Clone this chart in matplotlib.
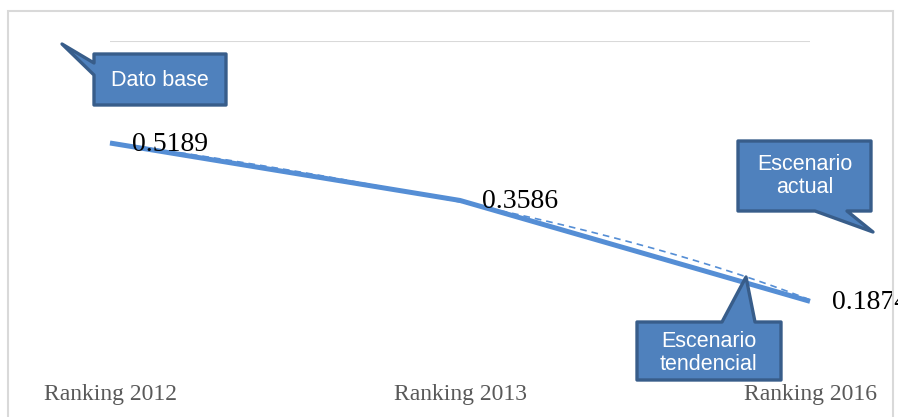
import numpy as np
import matplotlib
matplotlib.use("Agg")
import matplotlib.pyplot as plt
from matplotlib.patches import Polygon, Rectangle

# data
categories = ["Ranking 2012", "Ranking 2013", "Ranking 2016"]
values = [0.5189, 0.3586, 0.1874]
value_labels = ["0.5189", "0.3586", "0.1874"]

W, H = 898, 417
LINE_BLUE = "#558ED5"
BOX_FILL = "#4F81BD"
BOX_EDGE = "#385D8A"


def px(x, y):
    """pixel (from top-left) -> figure fraction"""
    return x / W, 1 - y / H


fig = plt.figure(figsize=(W / 100, H / 100), dpi=100)

# chart border (runs off the bottom of the picture)
fig.patches.append(Rectangle(px(8, 440), (893 - 8) / W, (440 - 11) / H,
                             transform=fig.transFigure, fill=False,
                             edgecolor="#D9D9D9", linewidth=1.5))

# plot area: y=41 px is 1.0 on a log axis, ~358 px per decade
top_px, bottom_px, decade_px = 41, 378, 358
ax = fig.add_axes([110 / W, 1 - bottom_px / H, 700 / W, (bottom_px - top_px) / H])
ax.set_yscale("log")
ax.set_ylim(10 ** (-(bottom_px - top_px) / decade_px), 1.0)
ax.set_xlim(0, len(categories) - 1)
ax.patch.set_alpha(0)
for s in ax.spines.values():
    s.set_visible(False)

ax.yaxis.grid(True, which="major", color="#D9D9D9", linewidth=1.5)
ax.yaxis.grid(False, which="minor")
ax.set_yticks([1.0])
ax.set_yticklabels([])
ax.tick_params(axis="y", which="both", length=0, labelleft=False)
ax.set_axisbelow(True)

x = np.arange(len(categories))
ax.plot(x, values, color=LINE_BLUE, linewidth=3.6, solid_capstyle="butt",
        clip_on=False, zorder=3)

# linear trend line (Excel style, fitted on the category index);
# drawn on the log axis it bends, so sample it finely
coef = np.polyfit(x, values, 1)
xt = np.linspace(x[0], x[-1], 200)
ax.plot(xt, np.polyval(coef, xt), color=LINE_BLUE, linewidth=1.2,
        linestyle=(0, (4, 3)), clip_on=False, zorder=4)

for xi, v, lab in zip(x, values, value_labels):
    ax.annotate(lab, (xi, v), xytext=(16, -1), textcoords="offset points",
                ha="left", va="center", fontsize=20, color="black",
                family=["Liberation Serif", "DejaVu Serif"], zorder=5,
                annotation_clip=False)

ax.set_xticks(x)
ax.set_xticklabels(categories, fontsize=17, color="#595959",
                   family=["Liberation Serif", "DejaVu Serif"])
ax.tick_params(axis="x", length=0, pad=4)

# callouts
callouts = [
    ([(94, 54), (226, 54), (226, 105), (94, 105), (94, 75), (62, 44), (94, 63)],
     (160, 80), "Dato base"),
    ([(738, 141), (871, 141), (871, 211), (847, 211), (873, 232), (815, 211), (738, 211)],
     (805, 176), "Escenario\nactual"),
    ([(637, 322), (722, 322), (746, 277), (755, 322), (781, 322), (781, 380), (637, 380)],
     (709, 353), "Escenario\ntendencial"),
]
for pts, (tx, ty), text in callouts:
    fig.patches.append(Polygon([px(a, b) for a, b in pts], closed=True,
                               transform=fig.transFigure, facecolor=BOX_FILL,
                               edgecolor=BOX_EDGE, linewidth=2.4,
                               joinstyle="round", zorder=6))
    fig.text(*px(tx, ty), text, ha="center", va="center", color="white",
             fontsize=15.5, linespacing=1.15,
             family=["Liberation Sans", "DejaVu Sans"], zorder=7)

fig.savefig("out.png", dpi=100)
